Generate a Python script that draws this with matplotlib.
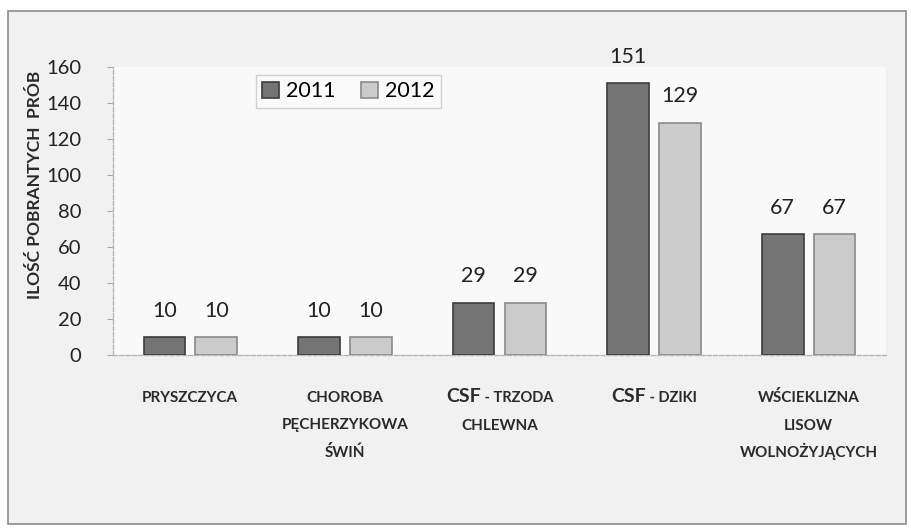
import matplotlib
matplotlib.use("Agg")
import matplotlib.pyplot as plt
import matplotlib.transforms as mtransforms
from matplotlib.patches import Rectangle
import numpy as np

# dane
kategorie = [
    ["PRYSZCZYCA"],
    ["CHOROBA", "PĘCHERZYKOWA", "ŚWIŃ"],
    ["CSF| - TRZODA", "CHLEWNA"],
    ["CSF| - DZIKI"],
    ["WŚCIEKLIZNA", "LISOW", "WOLNOŻYJĄCYCH"],
]
proby_2011 = [10, 10, 29, 151, 67]
proby_2012 = [10, 10, 29, 129, 67]
lata = ["2011", "2012"]
y_ticks = [0, 20, 40, 60, 80, 100, 120, 140, 160]

FONT = ["Lato", "DejaVu Sans"]
plt.rcParams["font.family"] = FONT

fig = plt.figure(figsize=(9.11, 5.28), dpi=100, facecolor="white")

# ramka wokol calego wykresu
fig.patches.append(Rectangle((8 / 911, 1 - 524 / 528), 898 / 911, 513 / 528,
                             transform=fig.transFigure, facecolor="#f1f1f1",
                             edgecolor="#8c8c8c", linewidth=1.2, zorder=-5))

ax = fig.add_axes([113 / 911, 1 - 355 / 528, 773 / 911, 288 / 528])
ax.set_facecolor("#f9f9f9")

x = np.arange(len(kategorie))
szer = 0.27
odst = 0.065

b1 = ax.bar(x - (szer + odst) / 2, proby_2011, szer, color="#747474",
            edgecolor="#3c3c3c", linewidth=1.2, label=lata[0], zorder=3)
b2 = ax.bar(x + (szer + odst) / 2, proby_2012, szer, color="#cbcbcb",
            edgecolor="#8a8a8a", linewidth=1.2, label=lata[1], zorder=3)

# etykiety wartosci nad slupkami
for bars in (b1, b2):
    for rect in bars:
        h = rect.get_height()
        ax.annotate(f"{h:.0f}", (rect.get_x() + rect.get_width() / 2, h),
                    xytext=(0, 19), textcoords="offset points",
                    ha="center", va="center", fontsize=15.5, color="#222222")

ax.set_xlim(-0.5, len(kategorie) - 0.5)
ax.set_ylim(0, 160)
ax.set_yticks(y_ticks)
ax.set_yticklabels([str(t) for t in y_ticks], fontsize=14.5, color="#222222")
ax.tick_params(axis="y", length=4, color="#aaaaaa", pad=19)
ax.set_xticks([])

for s in ("top", "right"):
    ax.spines[s].set_visible(False)
for s in ("left", "bottom"):
    ax.spines[s].set_color("#b5b5b5")
    ax.spines[s].set_linestyle((0, (3, 1.5)))
    ax.spines[s].set_linewidth(1)

# podpisy kategorii (CSF wiekszą czcionką)
renderer = fig.canvas.get_renderer()
trans = ax.get_xaxis_transform()
linia_px = 27.5
for i, linie in enumerate(kategorie):
    for j, linia in enumerate(linie):
        y_px = 47 + j * linia_px
        y = -y_px / 288
        czesci = linia.split("|")
        rozm = [14, 10.5] if len(czesci) == 2 else [11]
        teksty = []
        for c, r in zip(czesci, rozm):
            t = ax.text(i, y, c, fontsize=r, fontweight="bold", color="#2a2a2a",
                        ha="left", va="baseline", transform=trans)
            teksty.append(t)
        szer_px = [t.get_window_extent(renderer).width for t in teksty]
        start = -sum(szer_px) / 2
        for t, w in zip(teksty, szer_px):
            t.set_transform(mtransforms.offset_copy(trans, fig=fig, x=start,
                                                    y=0, units="dots"))
            start += w

fig.text(35 / 911, 1 - 185 / 528, "ILOŚĆ POBRANTYCH  PRÓB", rotation=90,
         ha="center", va="center", fontsize=12.5, fontweight="bold",
         color="#2a2a2a")

leg = ax.legend(loc="upper left", bbox_to_anchor=(245 / 911, 1 - 64 / 528),
                bbox_transform=fig.transFigure, ncol=2, fontsize=15.5,
                handlelength=0.8, handleheight=0.8, handletextpad=0.3,
                columnspacing=1.2, frameon=True, fancybox=False,
                borderpad=0.3)
leg.get_frame().set_edgecolor("#c8c8c8")
leg.get_frame().set_facecolor("#fbfbfb")

fig.savefig("out.png", dpi=100, facecolor=fig.get_facecolor())
